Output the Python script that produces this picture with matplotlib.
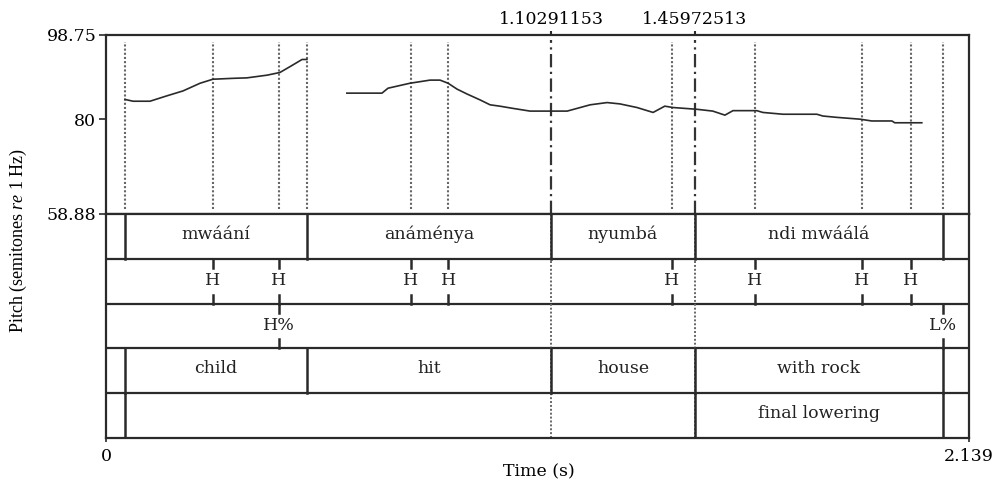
import matplotlib.pyplot as plt

plt.rcParams['font.family'] = ['DejaVu Serif']
plt.rcParams['mathtext.fontset'] = 'custom'
plt.rcParams['mathtext.it'] = 'Liberation Serif:italic'
plt.rcParams['mathtext.rm'] = 'Liberation Serif'

# pitch contour (semitones re 1 Hz), two voiced stretches
t1 = [0.047, 0.067, 0.109, 0.151, 0.191, 0.233, 0.265, 0.315, 0.349, 0.399,
      0.431, 0.456, 0.486, 0.498]
p1 = [84.4, 84.0, 84.0, 85.2, 86.3, 88.0, 88.9, 89.1, 89.2, 89.8,
      90.4, 91.7, 93.3, 93.3]
t2 = [0.597, 0.684, 0.699, 0.753, 0.803, 0.828, 0.848, 0.870, 0.895, 0.927,
      0.952, 0.976, 1.009, 1.051, 1.143, 1.200, 1.242, 1.274, 1.316, 1.356,
      1.385, 1.405, 1.465, 1.504, 1.534, 1.554, 1.613, 1.628, 1.678, 1.762,
      1.777, 1.812, 1.869, 1.898, 1.948, 1.955, 2.022]
p2 = [85.8, 85.8, 86.9, 88.0, 88.7, 88.7, 88.0, 86.7, 85.6, 84.3,
      83.2, 82.9, 82.4, 81.8, 81.8, 83.2, 83.7, 83.4, 82.6, 81.5,
      82.9, 82.6, 82.2, 81.8, 80.9, 81.9, 81.9, 81.5, 81.1, 81.1,
      80.7, 80.4, 80.0, 79.6, 79.6, 79.2, 79.2]

t_start, t_end = 0.0, 2.139
y_min, y_max = 58.88, 98.75
cursors = [1.10291153, 1.45972513]

# tier 1: words
word_bounds = [0.047, 0.498, 1.10291153, 1.45972513, 2.074]
word_labels = ['mwáání', 'anáménya', 'nyumbá', 'ndi mwáálá']
# tier 2: tones (points)
tone_times = [0.265, 0.429, 0.756, 0.848, 1.403, 1.608, 1.874, 1.995]
tone_labels = ['H', 'H', 'H', 'H', 'H', 'H', 'H', 'H']
# tier 3: boundary tones (points)
btone_times = [0.429, 2.074]
btone_labels = ['H%', 'L%']
# tier 4: glosses
gloss_bounds = [0.047, 0.498, 1.10291153, 1.45972513, 2.074]
gloss_labels = ['child', 'hit', 'house', 'with rock']
# tier 5: final lowering
fl_bounds = [0.047, 1.45972513, 2.074]
fl_labels = ['', 'final lowering']

ink = '#2a2a2a'
fs = 12.5
W, H = 996, 482
fig = plt.figure(figsize=(W / 100, H / 100), dpi=100)

left, right, top, mid, bot = 106, 969, 35, 214, 438
axp = fig.add_axes([left / W, 1 - mid / H, (right - left) / W, (mid - top) / H])
axt = fig.add_axes([left / W, 1 - bot / H, (right - left) / W, (bot - mid) / H])

for ax in (axp, axt):
    ax.set_xlim(t_start, t_end)
    for s in ax.spines.values():
        s.set_color(ink)
        s.set_linewidth(1.6)

# pitch panel
axp.set_ylim(y_min, y_max)
all_marks = sorted(set(word_bounds + tone_times + btone_times))
for x in all_marks:
    if any(abs(x - c) < 1e-6 for c in cursors):
        continue
    axp.axvline(x, ymin=0.03, ymax=0.96, color='#666666', lw=1.5, ls=(0, (1, 1)))
for c in cursors:
    axp.axvline(c, ymin=0.0, ymax=0.97, color='#333333', lw=1.6, ls=(0, (6, 2, 1, 2)))
axp.plot(t1, p1, color=ink, lw=1.2)
axp.plot(t2, p2, color=ink, lw=1.2)
axp.set_yticks([y_min, 80, y_max])
axp.set_yticklabels(['58.88', '80', '98.75'])
axp.tick_params(axis='y', length=5, width=1.2, color=ink, labelsize=fs, pad=2)
axp.set_xticks(cursors)
axp.set_xticklabels(['1.10291153', '1.45972513'])
axp.tick_params(axis='x', top=True, bottom=False, labeltop=True, labelbottom=False,
                length=3, width=1.5, color=ink, labelsize=fs, pad=2)

# tier panel
axt.set_ylim(0, 5)
for k in range(1, 5):
    axt.axhline(k, color=ink, lw=1.6)

def interval_tier(row, bounds, labels):
    y0, y1 = 4 - row, 5 - row
    for b in bounds:
        axt.plot([b, b], [y0, y1], color=ink, lw=1.8)
    for a, b, lab in zip(bounds[:-1], bounds[1:], labels):
        axt.text((a + b) / 2, y0 + 0.55, lab, ha='center', va='center',
                 fontsize=fs, color='#222222')

def point_tier(row, times, labels):
    y0, y1 = 4 - row, 5 - row
    for x, lab in zip(times, labels):
        axt.plot([x, x], [y1, y1 - 0.2], color=ink, lw=1.8)
        axt.plot([x, x], [y0, y0 + 0.2], color=ink, lw=1.8)
        axt.text(x, y0 + 0.52, lab, ha='center', va='center', fontsize=fs,
                 color='#222222')

for c in cursors:
    axt.axvline(c, color='#666666', lw=1.4, ls=(0, (1, 1)))

interval_tier(0, word_bounds, word_labels)
point_tier(1, tone_times, tone_labels)
point_tier(2, btone_times, btone_labels)
interval_tier(3, gloss_bounds, gloss_labels)
interval_tier(4, fl_bounds, fl_labels)

axt.set_yticks([])
axt.set_xticks([t_start, t_end])
axt.set_xticklabels(['0', '2.139'])
axt.tick_params(axis='x', length=3, width=1.2, color=ink, labelsize=fs, pad=4)

fig.text(539 / W, 1 - 472 / H, 'Time (s)', ha='center', va='center', fontsize=fs)
fig.text(18 / W, 1 - 240 / H, 'Pitch (semitones $\\mathit{re}$ 1 Hz)', rotation=90,
         ha='center', va='center', fontsize=13, family='Liberation Serif')

fig.savefig('out.png', dpi=100, facecolor='white')
